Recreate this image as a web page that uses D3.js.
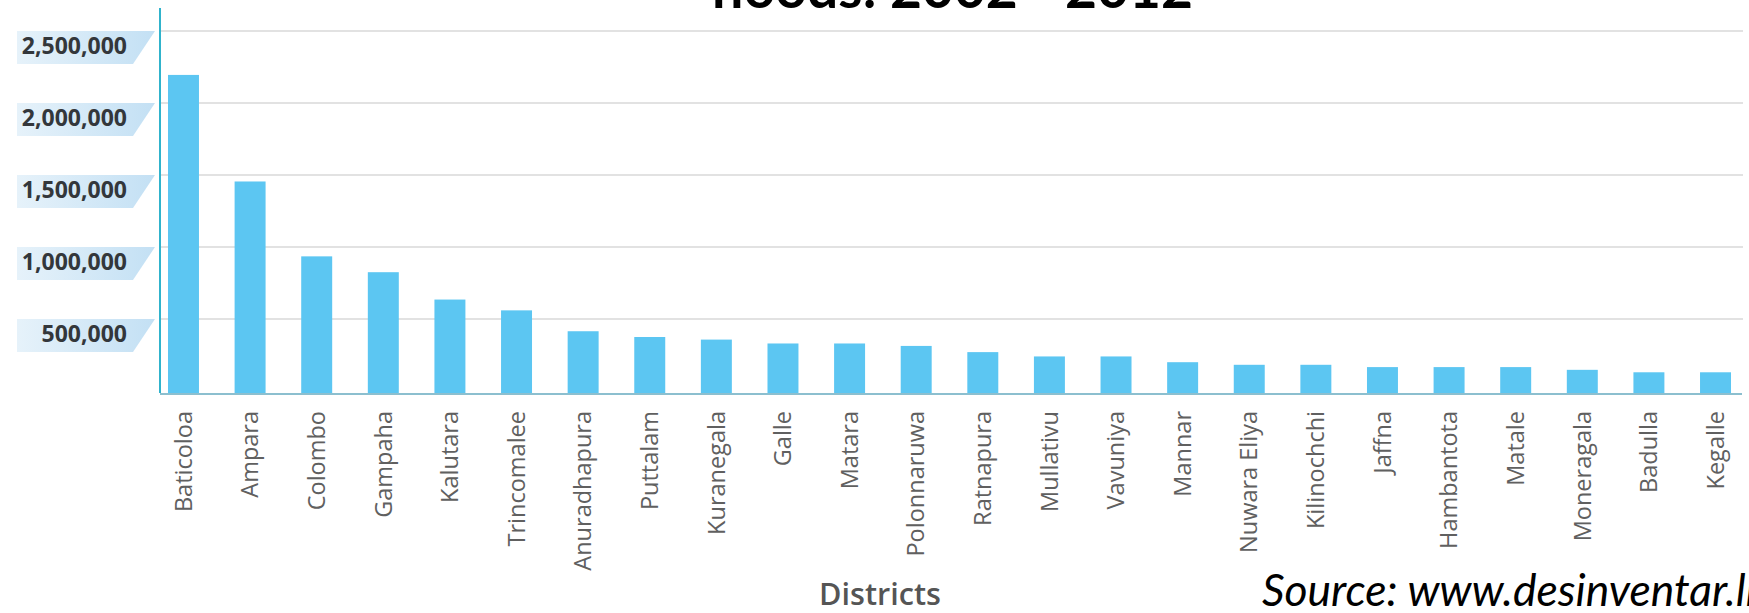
<!DOCTYPE html>
<html>
<head>
<meta charset="utf-8">
<script src="https://cdn.jsdelivr.net/npm/d3@7"></script>
<style>
  body { margin: 0; background: #fff; }
  svg { display: block; }
</style>
</head>
<body>
<script>
// districts, number of people affected by floods 2002 - 2012
var districts = ["Baticoloa", "Ampara", "Colombo", "Gampaha", "Kalutara", "Trincomalee",
    "Anuradhapura", "Puttalam", "Kuranegala", "Galle", "Matara", "Polonnaruwa",
    "Ratnapura", "Mullativu", "Vavuniya", "Mannar", "Nuwara Eliya", "Kilinochchi",
    "Jaffna", "Hambantota", "Matale", "Moneragala", "Badulla", "Kegalle"];
var affected = [2195000, 1455000, 935000, 825000, 635000, 560000,
    415000, 375000, 357000, 330000, 330000, 313000,
    270000, 240000, 240000, 200000, 182000, 182000,
    166000, 166000, 166000, 147000, 130000, 130000];
var yTicks = [500000, 1000000, 1500000, 2000000, 2500000];
var yTickLabels = ["500,000", "1,000,000", "1,500,000", "2,000,000", "2,500,000"];

var W = 1749, H = 613;
var margin = {top: 31, left: 160, right: 10, bottom: 222};

var svg = d3.select("body").append("svg")
    .attr("width", W)
    .attr("height", H);

var x = d3.scaleBand()
    .domain(districts)
    .range([margin.left, W - margin.right])
    .paddingInner(0.535)
    .paddingOuter(0.12);

var y = d3.scaleLinear()
    .domain([0, 2500000])
    .range([H - margin.bottom, margin.top]);

// gradient for the tick label bands
var grad = svg.append("defs").append("linearGradient")
    .attr("id", "band")
    .attr("x1", "0%").attr("x2", "100%")
    .attr("y1", "0%").attr("y2", "0%");
grad.append("stop").attr("offset", "0%").attr("stop-color", "#e6f2fa");
grad.append("stop").attr("offset", "100%").attr("stop-color", "#c3e0f4");

// label bands + grid lines
svg.append("g").selectAll("path")
    .data(yTicks)
    .enter().append("path")
    .attr("d", function(d) {
        var t = y(d);
        return "M17," + t + "L155," + t + "L133," + (t + 33) + "L17," + (t + 33) + "Z";
    })
    .style("fill", "url(#band)");

svg.append("g").selectAll("line")
    .data(yTicks)
    .enter().append("line")
    .attr("x1", margin.left)
    .attr("x2", 1743)
    .attr("y1", function(d) { return y(d); })
    .attr("y2", function(d) { return y(d); })
    .style("stroke", "#e2e2e2")
    .style("stroke-width", 2);

svg.append("g").selectAll("text")
    .data(yTicks)
    .enter().append("text")
    .attr("x", 127)
    .attr("y", function(d) { return y(d) + 15; })
    .attr("dy", "0.35em")
    .style("text-anchor", "end")
    .style("font-family", "'Open Sans', sans-serif")
    .style("font-weight", "bold")
    .style("font-size", "23px")
    .style("fill", "#33373b")
    .text(function(d, i) { return yTickLabels[i]; });

// bars
svg.append("g").selectAll("rect")
    .data(affected)
    .enter().append("rect")
    .attr("x", function(d, i) { return x(districts[i]); })
    .attr("width", x.bandwidth())
    .attr("y", function(d) { return y(d); })
    .attr("height", function(d) { return y(0) - y(d) + 2; })
    .style("fill", "#5cc6f2");

// axes lines
svg.append("line")
    .attr("x1", margin.left).attr("x2", margin.left)
    .attr("y1", 8).attr("y2", y(0) + 2)
    .style("stroke", "#30b3cc")
    .style("stroke-width", 2);

svg.append("line")
    .attr("x1", margin.left).attr("x2", 1742)
    .attr("y1", y(0) + 3).attr("y2", y(0) + 3)
    .style("stroke", "#8cbfcf")
    .style("stroke-width", 2);

// district labels
svg.append("g").selectAll("text")
    .data(districts)
    .enter().append("text")
    .attr("transform", function(d) {
        return "translate(" + (x(d) + x.bandwidth() / 2) + "," + (y(0) + 20) + ") rotate(-90)";
    })
    .attr("dy", "0.35em")
    .style("text-anchor", "end")
    .style("font-family", "'Open Sans', sans-serif")
    .style("font-size", "23.5px")
    .style("fill", "#606060")
    .text(function(d) { return d; });

function fit(sel, w) {
    var len = sel.node().getComputedTextLength();
    var fs = parseFloat(sel.style("font-size"));
    sel.style("font-size", (fs * w / len) + "px");
}

var xTitle = svg.append("text")
    .attr("x", 880)
    .attr("y", 605)
    .style("text-anchor", "middle")
    .style("font-family", "'Open Sans', sans-serif")
    .style("font-weight", 600)
    .style("font-size", "26px")
    .style("fill", "#555")
    .text("Districts");
fit(xTitle, 122);

var title = svg.append("text")
    .attr("x", 710)
    .attr("y", 8)
    .style("font-family", "Lato, sans-serif")
    .style("font-weight", "bold")
    .style("font-size", "48px")
    .style("fill", "#000")
    .text("floods: 2002 - 2012");
fit(title, 483);

var source = svg.append("text")
    .attr("x", 1262)
    .attr("y", 606)
    .style("font-family", "Lato, sans-serif")
    .style("font-style", "italic")
    .style("font-size", "32px")
    .style("fill", "#000")
    .text("Source: www.desinventar.lk");
fit(source, 505);
</script>
</body>
</html>
